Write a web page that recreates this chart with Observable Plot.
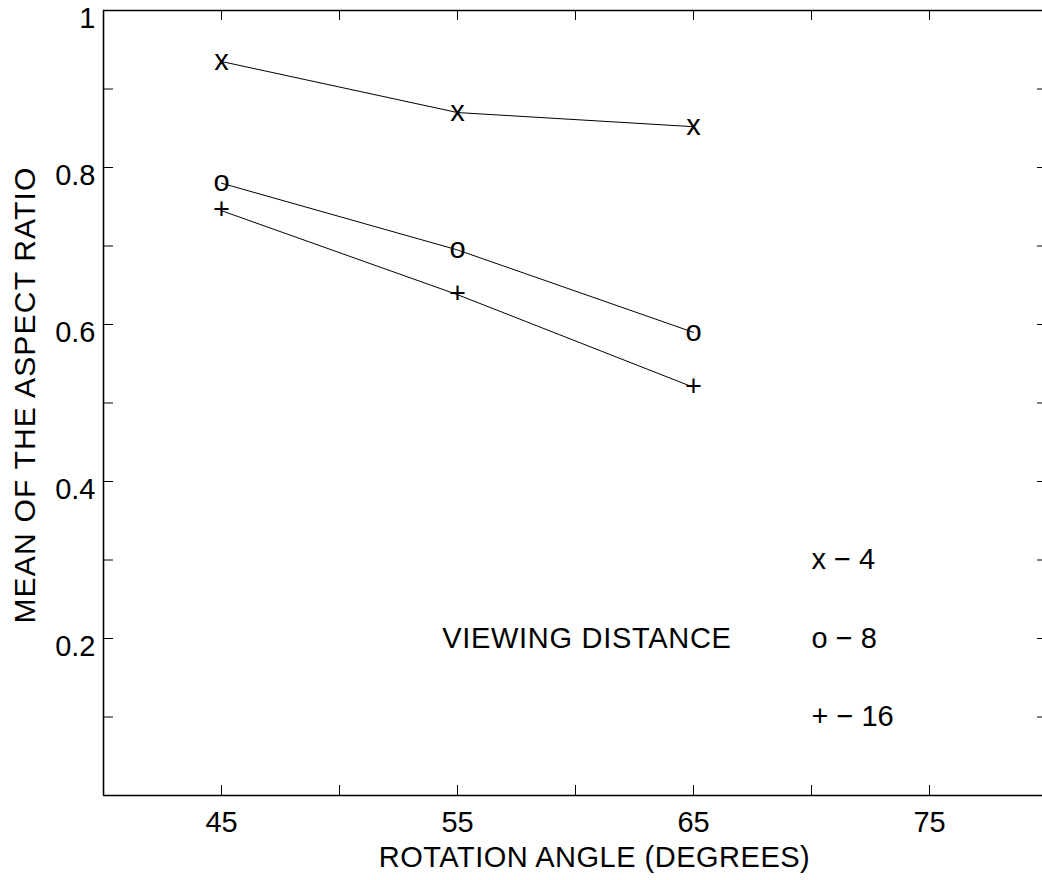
<!DOCTYPE html>
<html>
<head>
<meta charset="utf-8">
<script src="https://cdn.jsdelivr.net/npm/d3@7"></script>
<script src="https://cdn.jsdelivr.net/npm/@observablehq/plot@0.6"></script>
<style>
  html, body { margin: 0; padding: 0; background: #fff; overflow: hidden; }
  #chart svg { display: block; }
</style>
</head>
<body>
<div id="chart"></div>
<script>
// Rotation angles (degrees) at which the aspect ratio was measured
const angles = [45, 55, 65];

// Mean aspect ratio for each viewing distance
const ratioDistance4 = [0.935, 0.870, 0.852];
const ratioDistance8 = [0.780, 0.695, 0.590];
const ratioDistance16 = [0.745, 0.638, 0.520];

// Viewing distances and the glyph used to mark each one
const distances = ["4", "8", "16"];
const markers = ["x", "o", "+"];

// Axis ticks and labelled ticks
const xDomain = [40, 80];
const yDomain = [0, 1];
const xTicks = [45, 50, 55, 60, 65, 70, 75];
const xTickLabels = [45, 55, 65, 75];
const yTicks = [0.1, 0.2, 0.3, 0.4, 0.5, 0.6, 0.7, 0.8, 0.9];
const yTickLabels = [0.2, 0.4, 0.6, 0.8, 1];

// Key entries, one row per distance
const keyY = [0.3, 0.2, 0.1];
const keyX = 70;
const keyTitle = "VIEWING DISTANCE";
const keyTitleX = 54.35;

const xLabel = "ROTATION ANGLE (DEGREES)";
const yLabel = "MEAN OF THE ASPECT RATIO";

const seriesValues = [ratioDistance4, ratioDistance8, ratioDistance16];
const rows = [];
seriesValues.forEach((values, s) => {
  values.forEach((v, j) => rows.push({angle: angles[j], ratio: v, distance: distances[s], marker: markers[s]}));
});
const keyRows = distances.map((d, s) => ({label: `${markers[s]} \u2212 ${d}`, y: keyY[s]}));

const font = "'Liberation Sans', Arial, Helvetica, sans-serif";
const fs = 29;
const tickLen = 10;

const chart = Plot.plot({
  width: 1042,
  height: 880,
  marginLeft: 103,
  marginRight: -5,
  marginTop: 10,
  marginBottom: 85,
  style: {fontFamily: font, fontSize: fs + "px", color: "black", background: "white", overflow: "hidden"},
  x: {domain: xDomain, range: [103, 1047]},
  y: {domain: yDomain, range: [795, 10]},
  marks: [
    // box around the plotting area
    Plot.ruleY(yDomain, {y: d => d, x1: xDomain[0], x2: xDomain[1], stroke: "black", strokeWidth: 1.6}),
    Plot.ruleX(xDomain, {x: d => d, y1: yDomain[0], y2: yDomain[1], stroke: "black", strokeWidth: 1.6}),
    // inward ticks on all four sides
    Plot.ruleX(xTicks, {x: d => d, y1: yDomain[0], y2: yDomain[0], insetBottom: tickLen, stroke: "black", strokeWidth: 1}),
    Plot.ruleX(xTicks, {x: d => d, y1: yDomain[1], y2: yDomain[1], insetTop: tickLen, stroke: "black", strokeWidth: 1}),
    Plot.ruleY(yTicks, {y: d => d, x1: xDomain[0], x2: xDomain[0], insetLeft: tickLen, stroke: "black", strokeWidth: 1}),
    Plot.ruleY(yTicks, {y: d => d, x1: xDomain[1], x2: xDomain[1], insetRight: tickLen, stroke: "black", strokeWidth: 1}),
    // tick labels
    Plot.axisX(xTickLabels, {anchor: "bottom", tickSize: 0, tickPadding: 16, fontSize: fs, fill: "black", label: null}),
    Plot.axisY(yTickLabels, {anchor: "left", tickSize: 0, tickPadding: 8, fontSize: fs, fill: "black", label: null, dy: 8, tickFormat: d => String(d)}),
    // axis titles
    Plot.text([xLabel], {ariaDescription: "x title", frameAnchor: "bottom", text: d => d, textAnchor: "middle", dx: 19, dy: 62, fontSize: fs, fill: "black", lineAnchor: "middle"}),
    Plot.text([yLabel], {ariaDescription: "y title", frameAnchor: "left", text: d => d, textAnchor: "middle", rotate: -90, dx: -78, dy: -8, fontSize: 30, fill: "black", lineAnchor: "middle"}),
    // data
    Plot.line(rows, {x: "angle", y: "ratio", z: "distance", stroke: "black", strokeWidth: 1}),
    Plot.text(rows, {x: "angle", y: "ratio", text: "marker", fontSize: fs, fill: "black", lineAnchor: "middle", dy: -1}),
    // key
    Plot.text(keyRows, {x: keyX, y: "y", text: "label", textAnchor: "start", fontSize: fs, fill: "black", lineAnchor: "middle"}),
    Plot.text([keyTitle], {ariaDescription: "key title", x: keyTitleX, y: keyY[1], text: d => d, textAnchor: "start", fontSize: fs, fill: "black", lineAnchor: "middle"})
  ]
});

// slightly looser letter spacing on the long titles
const spacing = {"y title": "1.2px", "x title": "0.5px", "key title": "0.7px"};
for (const [name, ls] of Object.entries(spacing)) {
  d3.select(chart).selectAll(`g[aria-description="${name}"] text`).style("letter-spacing", ls);
}

document.getElementById("chart").appendChild(chart);
</script>
</body>
</html>
